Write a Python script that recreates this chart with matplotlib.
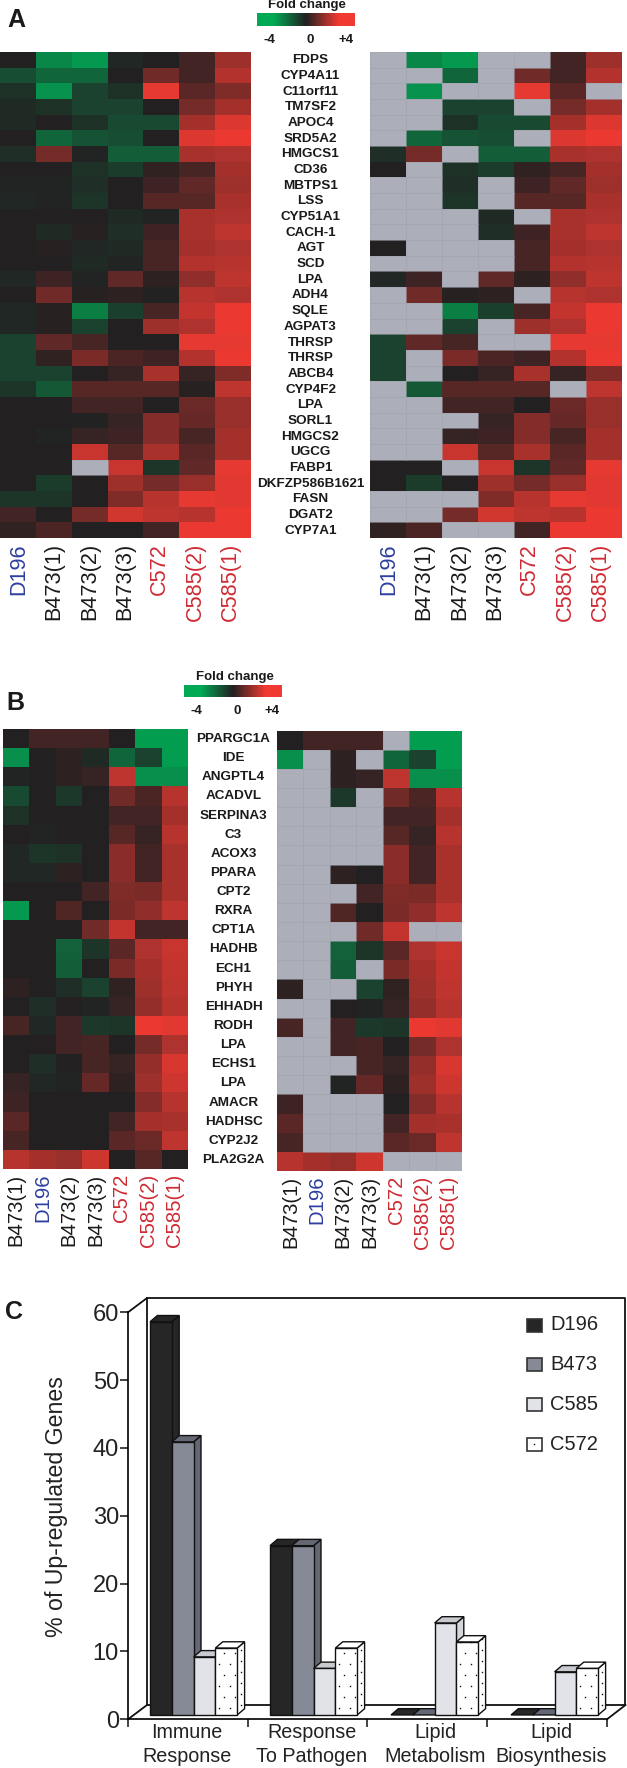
import numpy as np
import matplotlib
matplotlib.use('Agg')
import matplotlib.pyplot as plt
from matplotlib.colors import LinearSegmentedColormap
from matplotlib.patches import Polygon, Rectangle

W, H = 627, 1768

genes_a = ['FDPS', 'CYP4A11', 'C11orf11', 'TM7SF2', 'APOC4', 'SRD5A2', 'HMGCS1', 'CD36', 'MBTPS1', 'LSS',
           'CYP51A1', 'CACH-1', 'AGT', 'SCD', 'LPA', 'ADH4', 'SQLE', 'AGPAT3', 'THRSP', 'THRSP', 'ABCB4',
           'CYP4F2', 'LPA', 'SORL1', 'HMGCS2', 'UGCG', 'FABP1', 'DKFZP586B1621', 'FASN', 'DGAT2', 'CYP7A1']
samples_a = ['D196', 'B473(1)', 'B473(2)', 'B473(3)', 'C572', 'C585(2)', 'C585(1)']
values_a = [
    [0, -3, -3.5, -.2, 0, .6, 2.4],
    [-1.3, -2, -2, 0, 1.5, .6, 2.8],
    [-.5, -3.3, -1, -.5, 3.8, 1.1, 1.8],
    [-.3, -.5, -1, -1, 0, 1.6, 2.5],
    [-.3, 0, -.5, -1.2, -1.2, 2.5, 3.6],
    [0, -2, -1.5, -1.3, 0, 3.6, 3.9],
    [-.4, 1.6, -.1, -1.8, -1.8, 2.6, 2.7],
    [0, 0, -.5, -.8, .3, .7, 2.5],
    [-.1, -.1, -.4, 0, .5, 1.2, 2.4],
    [-.2, -.1, -.6, 0, 1, 1, 2.6],
    [0, 0, 0, -.3, -.1, 2.6, 2.7],
    [0, -.3, .1, -.4, .5, 2.6, 3],
    [0, .1, -.2, -.3, .7, 2.5, 2.7],
    [0, 0, -.3, -.1, .7, 2.8, 2.9],
    [-.2, .5, -.1, 1.2, .2, 2.1, 3],
    [0, 1.5, .1, .2, -.05, 2.9, 2.7],
    [-.2, .1, -2.7, -.9, .7, 3.1, 3.9],
    [-.2, .1, -1, 0, 2.4, 2.7, 3.9],
    [-1, 1.2, .7, 0, 0, 3.8, 3.8],
    [-1, .3, 1.7, .8, .5, 2.8, 3.9],
    [-1, -1, 0, .4, 2.6, .4, 1.8],
    [-.6, -1.6, 1, 1, 1, .1, 3],
    [0, 0, .6, .6, 0, 1.4, 2.3],
    [0, 0, -.05, .4, 1.9, 1.3, 2.3],
    [0, -.1, .4, .5, 1.9, .7, 2.5],
    [0, 0, 3.2, 1, 2.6, 1.1, 2.5],
    [0, 0, np.nan, 3.2, -.6, 1.2, 3.8],
    [0, -.8, 0, 2.4, 1.6, 2.3, 3.7],
    [-.6, -.6, 0, 1.8, 2.9, 3.8, 3.7],
    [.6, 0, 1.6, 3.4, 3, 2.9, 3.9],
    [.3, .8, 0, 0, .6, 3.9, 3.9],
]
# 1 = grey (filtered) cell in the right hand map
missing_a = ['1001100', '1101000', '1011001', '1100100', '1100000', '1000100', '0010000', '0100000',
             '1101000', '1101000', '1110100', '1110000', '0111000', '1111000', '0010000', '1000100',
             '1100000', '1101000', '0001100', '0100000', '0100000', '1000010', '1100000', '1110000',
             '1100000', '1100000', '0010000', '0000000', '1110000', '1100000', '0011000']

genes_b = ['PPARGC1A', 'IDE', 'ANGPTL4', 'ACADVL', 'SERPINA3', 'C3', 'ACOX3', 'PPARA', 'CPT2', 'RXRA', 'CPT1A',
           'HADHB', 'ECH1', 'PHYH', 'EHHADH', 'RODH', 'LPA', 'ECHS1', 'LPA', 'AMACR', 'HADHSC', 'CYP2J2', 'PLA2G2A']
samples_b = ['B473(1)', 'D196', 'B473(2)', 'B473(3)', 'C572', 'C585(2)', 'C585(1)']
values_b = [
    [0, .6, .6, .6, 0, -3.6, -3.6],
    [-3.2, 0, .2, -.3, -2, -1, -3.6],
    [-.1, 0, .2, .4, 3, -3.2, -3.2],
    [-1.2, 0, -.7, 0, 1.5, .8, 2.9],
    [-.5, 0, 0, 0, .6, .6, 2.5],
    [0, -.1, 0, 0, 1, .4, 2.9],
    [-.2, -.6, -.5, 0, 2, .6, 2.6],
    [-.2, -.2, .2, 0, 2, .6, 2.6],
    [0, 0, 0, .6, 1.8, 1.7, 2.6],
    [-3.5, 0, .9, 0, 1.7, 2.1, 3],
    [0, 0, 0, 1.5, 3.1, .6, .6],
    [0, 0, -1.9, -.6, 1.1, 2.7, 3.2],
    [0, 0, -1.8, 0, 1.7, 2.5, 3.1],
    [.2, 0, -.4, -1, .3, 2.4, 3],
    [0, -.4, .05, -.1, .4, 2.2, 2.9],
    [.7, -.2, .6, -.7, -.6, 3.9, 3.7],
    [0, .05, .6, .7, 0, 1.6, 2.7],
    [0, -.4, 0, .7, .4, 2.2, 3.5],
    [.4, -.2, -.1, 1.3, .2, 2.4, 3.3],
    [.5, 0, 0, 0, 0, 1.9, 2.9],
    [1.1, 0, 0, 0, .6, 2.5, 2.6],
    [.7, 0, 0, 0, 1.1, 1.4, 3],
    [2.9, 2.5, 2.3, 3.3, 0, 1, 0],
]
missing_b = ['0000100', '0101000', '1100000', '1101000', '1111000', '1111000', '1111000', '1100000', '1110000',
             '1100000', '1110011', '1100000', '1101000', '0110000', '1100000', '0100000', '1100000', '1110000',
             '1100000', '0111000', '0111000', '0111000', '0000111']

categories = [['Immune', 'Response'], ['Response', 'To Pathogen'], ['Lipid', 'Metabolism'], ['Lipid', 'Biosynthesis']]
strains = ['D196', 'B473', 'C585', 'C572']
d196 = [58.6, 25.6, 0, 0]
b473 = [40.9, 25.6, 0, 0]
c585 = [9.2, 7.5, 14.2, 7.0]
c572 = [10.5, 10.5, 11.4, 7.5]
yticks_c = [0, 10, 20, 30, 40, 50, 60]

cmap = LinearSegmentedColormap.from_list('fold', ['#00aa55', '#222021', '#f03a32'])
cmap.set_bad('#acaeba')
plt.rcParams['font.family'] = ['Liberation Sans']
fig = plt.figure(figsize=(W / 100, H / 100), dpi=100, facecolor='white')


def px_axes(x0, y0, x1, y1):
    return fig.add_axes([x0 / W, 1 - y1 / H, (x1 - x0) / W, (y1 - y0) / H])


def put(x, y, s, **kw):
    kw.setdefault('ha', 'center')
    kw.setdefault('va', 'center')
    fig.text(x / W, 1 - y / H, s, **kw)


def heat(box, data):
    ax = px_axes(*box)
    ax.pcolormesh(data, cmap=cmap, vmin=-4, vmax=4, antialiased=False)
    # faint cell lines that show on the grey cells only
    rows, cols = np.nonzero(np.isnan(data))
    for r, c in zip(rows, cols):
        ax.add_patch(Rectangle((c, r), 1, 1, fill=False, edgecolor='#a3a5b1', lw=.4))
    ax.invert_yaxis()
    ax.axis('off')


def sample_color(name):
    if name[0] == 'D':
        return '#2e3f9e'
    if name[0] == 'C':
        return '#cf2a33'
    return '#1a1a1a'


def heat_pair(left, right, values, missing, samples, genes, label_x, gene_size, size, gap, first, step):
    vals = np.array(values, dtype=float)
    masked = vals.copy()
    masked[np.array([[c == '1' for c in row] for row in missing])] = np.nan
    heat(left, vals)
    heat(right, masked)
    row_h = (left[3] - left[1]) / len(genes)
    for i, g in enumerate(genes):
        put(label_x, left[1] + (i + .5) * row_h + .5, g, weight='bold', fontsize=gene_size, color='#1a1a1a')
    for box in (left, right):
        for i, s in enumerate(samples):
            put(box[0] + first + i * step, box[3] + gap, s, rotation=90, va='top', fontsize=size,
                color=sample_color(s))


def colorbar(x0, y0, x1, y1, label_y, tick_y, tick_xs):
    ax = px_axes(x0, y0, x1, y1)
    ax.imshow(np.clip(np.linspace(-4, 4, 200) * 1.5, -4, 4)[None, :], aspect='auto', cmap=cmap, vmin=-4, vmax=4)
    ax.axis('off')
    put((x0 + x1) / 2 + 2, label_y, 'Fold change', weight='bold', fontsize=9.5, color='#1a1a1a')
    for tx, s in zip(tick_xs, ['-4', '0', '+4']):
        put(tx, tick_y, s, weight='bold', fontsize=9.5, color='#1a1a1a')


heat_pair((0, 52, 251, 538), (370, 52, 621.5, 538), values_a, missing_a, samples_a, genes_a, 310.5,
          9.7, 15.6, 5, 19, 35.2)
colorbar(256.5, 13, 354, 26, 5, 40, [269, 310, 346])
put(16, 20, 'A', weight='bold', fontsize=18, color='#1a1a1a')

heat_pair((2.8, 729, 188, 1169), (277, 730.5, 462, 1171), values_b, missing_b, samples_b, genes_b, 233.5,
          9.7, 14.6, 5, 13.5, 26.4)
colorbar(184, 685, 282, 697, 677, 711, [196, 237, 272])
put(15, 703, 'B', weight='bold', fontsize=18, color='#1a1a1a')

put(14, 1312, 'C', weight='bold', fontsize=18, color='#1a1a1a')

# panel C, fake 3d bars on an axes with % on y and pixels on x
PX_PER_UNIT = 6.783
Y0 = 1719.3
X_LEFT, X_RIGHT = 128, 627
Y_TOP = 63
ax = px_axes(X_LEFT, Y0 - Y_TOP * PX_PER_UNIT, X_RIGHT, Y0)
ax.set_xlim(X_LEFT, X_RIGHT)
ax.set_ylim(0, Y_TOP)
ax.patch.set_alpha(0)
for s in ['top', 'right']:
    ax.spines[s].set_visible(False)
ax.spines['left'].set_bounds(0, 60)
ax.spines['bottom'].set_bounds(X_LEFT, 607)
ax.spines['left'].set_linewidth(1.2)
ax.spines['bottom'].set_linewidth(1.2)
ax.set_yticks(yticks_c)
ax.set_xticks(np.linspace(X_LEFT, 607, 5))
ax.set_xticklabels([])
ax.tick_params(axis='both', length=5.5, width=1.1, color='#111111')
ax.tick_params(axis='y', labelsize=17, labelcolor='#222222', pad=1)

# walls and floor
dx, dy = 19, 14.3 / PX_PER_UNIT
wall = dict(color='#111111', lw=1.3, clip_on=False, solid_capstyle='projecting')
ax.plot([X_LEFT, X_LEFT + dx, X_LEFT + dx], [60, 60 + dy, dy], **wall)
ax.plot([X_LEFT + dx, 625.5, 625.5, X_LEFT + dx], [60 + dy, 60 + dy, dy, dy], **wall)
ax.plot([X_LEFT, X_LEFT + dx], [0, dy], **wall)
ax.plot([607, 625.5], [0, dy], **wall)

# bars
BASE = .64
bar_w = 21.8
bdx, bdy = 7.4, 6.3 / PX_PER_UNIT
group_x = [150, 270, 391, 511]
styles = [('#262626', '#262626', '#262626'),
          ('#868996', '#646774', '#646774'),
          ('#e2e3e8', '#c9cacf', '#d5d6da'),
          ('#ffffff', '#ffffff', '#ffffff')]


def dots(x, v):
    # dot texture of the C572 bars, front then side face
    ys = np.arange(BASE + 1, v, 11 / PX_PER_UNIT)
    for j, yy in enumerate(ys):
        for xx in np.arange(x + 4 + (j % 2) * 5, x + bar_w - 1, 11):
            ax.plot(xx, yy, 's', ms=1, mfc='#111111', mec='none', zorder=3)
        ax.plot(x + bar_w + bdx / 2, yy + bdy / 2, 's', ms=1, mfc='#111111', mec='none', zorder=3)


def bar3d(x, v, style, dotted=False):
    top = max(v, BASE)
    front, lid, side = style
    kw = dict(edgecolor='#111111', lw=1, zorder=2)
    if v > BASE:
        ax.add_patch(Polygon([(x + bar_w, BASE), (x + bar_w + bdx, BASE + bdy), (x + bar_w + bdx, top + bdy),
                              (x + bar_w, top)], facecolor=side, **kw))
    ax.add_patch(Polygon([(x, top), (x + bdx, top + bdy), (x + bar_w + bdx, top + bdy), (x + bar_w, top)],
                         facecolor=lid, **kw))
    if v > BASE:
        ax.add_patch(Rectangle((x, BASE), bar_w, top - BASE, facecolor=front, **kw))
    if dotted:
        dots(x, v)


for g, gx in enumerate(group_x):
    for k, series in enumerate([d196, b473, c585, c572]):
        bar3d(gx + k * bar_w, series[g], styles[k], k == 3)

for g, lines in enumerate(categories):
    cx = [187, 312, 435, 551][g]
    for ln, s in enumerate(lines):
        put(cx, 1733 + ln * 24, s, fontsize=14.2, color='#222222')
put(57, 1507, '% of Up-regulated Genes', rotation=90, fontsize=16.7, color='#222222')

for i, name in enumerate(strains):
    sy = 1325 + i * 39.8
    ax.add_patch(Rectangle((527, (Y0 - sy - 6.5) / PX_PER_UNIT), 15, 13 / PX_PER_UNIT, facecolor=styles[i][0],
                           edgecolor='#333333', lw=1.2))
    if i == 3:
        ax.plot(534.5, (Y0 - sy) / PX_PER_UNIT, 's', ms=1, mfc='#111111', mec='none')
    put(550, sy, name, ha='left', fontsize=14.5, color='#222222')

fig.savefig('out.png', dpi=100, facecolor='white')
